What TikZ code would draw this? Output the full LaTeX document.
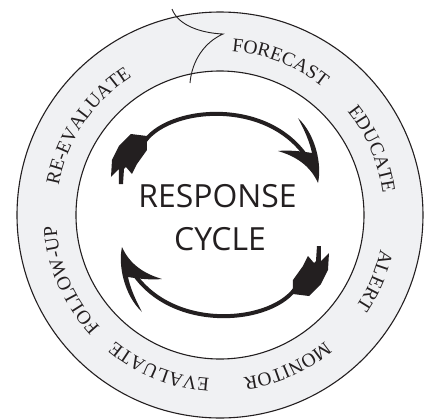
\documentclass[tikz,border=0pt]{standalone}
\usepackage{fontspec}
\newfontfamily\cyclefont{Open Sans}
\newfontfamily\ringfont{Liberation Serif}
\usetikzlibrary{decorations.text}
\definecolor{ringgray}{HTML}{F0F1F3}
\definecolor{ink}{HTML}{231F20}
\tikzset{
  ringline/.style={draw=ink, line width=1.1bp},
  ringlabel/.style={decorate, decoration={text along path, text align=center,
      text={|\ringfont\fontsize{19.5}{21}\selectfont\color{ink}|#1}}},
  centertext/.style={font=\cyclefont\fontsize{32}{38}\selectfont, text=ink, anchor=base, inner sep=0pt},
  shaft/.style={draw=ink, line width=4bp},
  arrowpart/.style={fill=ink},
  notchline/.style={draw=ink, line width=0.9bp}
}
\begin{document}
\begin{tikzpicture}[x=1bp,y=1bp]
\useasboundingbox (-220,-205) rectangle (207,215);
\fill[white] (-220,-205) rectangle (207,215);
\coordinate (c) at (0,0);
% ring
\path[ringline, fill=ringgray] (c) circle[radius=203];
\path[ringline, fill=white] (c) circle[radius=144];
% labels around the ring (clockwise)
\path[ringlabel=FORECAST] (128.5:164) arc[start angle=128.5, end angle=8.5, radius=164];
\path[ringlabel=EDUCATE] (83.3:164) arc[start angle=83.3, end angle=-36.7, radius=164];
\path[ringlabel=ALERT] (37:164) arc[start angle=37, end angle=-83, radius=164];
\path[ringlabel=MONITOR] (-6:164) arc[start angle=-6, end angle=-126, radius=164];
\path[ringlabel=EVALUATE] (-51.7:164) arc[start angle=-51.7, end angle=-171.7, radius=164];
\path[ringlabel=FOLLOW-UP] (-96.5:164) arc[start angle=-96.5, end angle=-216.5, radius=164];
\path[ringlabel=RE-EVALUATE] (206:164) arc[start angle=206, end angle=86, radius=164];
% pixel-coordinate scope
\begin{scope}[shift={(-220,215)}, yscale=-1]
  % notch at the top of the ring
  \coordinate (n1) at (172,9);
  \coordinate (n2) at (223,34);
  \coordinate (n3) at (190,83);
  \path[notchline] (n1) .. controls (178,25) and (200,33) .. (n2)
                        .. controls (205,42) and (192,60) .. (n3);
  % the two arrows
  \foreach \r in {0,180}{
    \begin{scope}[rotate around={\r:(220,215)}]
      \path[shaft] (145,141) .. controls (172,104) and (280,97) .. (314,170);
      \path[arrowpart] (318,183) .. controls (322,165) and (316,135) .. (298,118)
            .. controls (305,131) and (310,143) .. (312,153)
            .. controls (300,151) and (288,150) .. (278,151)
            .. controls (295,156) and (310,165) .. (318,183) -- cycle;
      \path[arrowpart] (147,136) -- (147,150) -- (137,164) -- (132,174) -- (126,167)
            -- (124,169) -- (123,184) -- (119,184) -- (119,169) -- (111,177)
            -- (112,160) -- (119,146) -- (131,134) -- cycle;
    \end{scope}
  }
\end{scope}
% centre text
\node[centertext] (resp) at (-2.5,8) {RESPONSE};
\node[centertext] (cyc) at (0,-35) {CYCLE};
\end{tikzpicture}
\end{document}
